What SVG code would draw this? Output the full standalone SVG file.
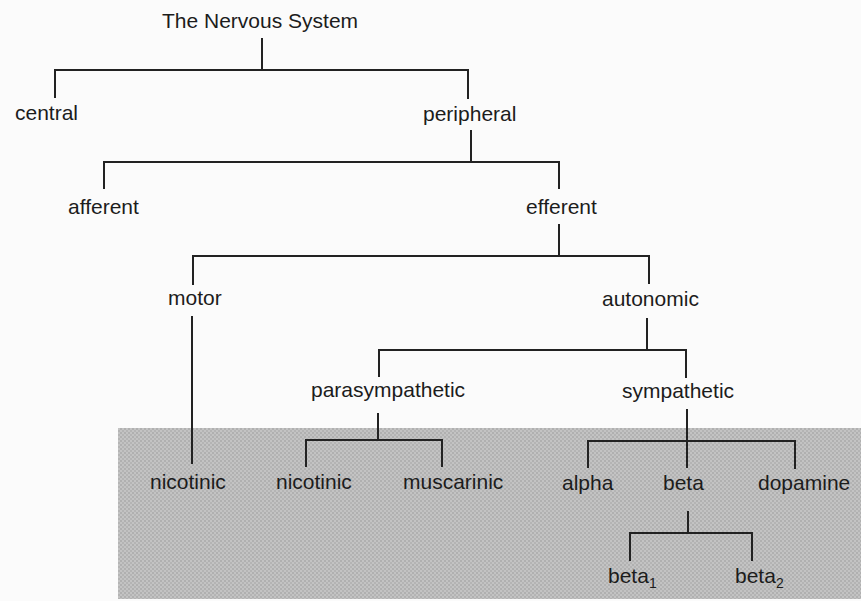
<svg xmlns="http://www.w3.org/2000/svg" width="861" height="601" viewBox="0 0 861 601">
  <style>
    .lbl { font-family: "Liberation Sans", Arial, Helvetica, sans-serif; font-size: 21px; fill: #1c1c1c; }
    .sub { font-size: 14px; }
    .link { fill: none; stroke: #222; stroke-width: 2; stroke-linecap: square; }
  </style>
  <defs>
    <!-- halftone screen used for the shaded receptor band -->
    <pattern id="screen" width="4" height="4" patternUnits="userSpaceOnUse">
      <rect width="4" height="4" fill="#c3c3c3"/>
      <rect x="0" y="0" width="2" height="2" fill="#b0b0b0"/>
      <rect x="2" y="2" width="2" height="2" fill="#b4b4b4"/>
    </pattern>
  </defs>

  <rect width="861" height="601" fill="#fbfbfb"/>
  <rect id="receptor-band" x="118" y="428" width="743" height="171" fill="url(#screen)"/>

  <g id="connectors">
    <path class="link" d="M262 39 V70 M55 70 H468 M55 70 V97 M468 70 V98"/>
    <path class="link" d="M471 131 V162 M104 162 H559 M104 162 V188 M559 162 V188"/>
    <path class="link" d="M559 225 V256 M193 256 H649 M193 256 V284 M649 256 V283"/>
    <path class="link" d="M192 317 V463"/>
    <path class="link" d="M647 319 V350 M379 350 H686 M379 350 V376 M686 350 V377"/>
    <path class="link" d="M378 414 V440 M306 440 H442 M306 440 V466 M442 440 V466"/>
    <path class="link" d="M687 410 V467 M588 441 H795 M588 441 V467 M795 441 V468"/>
    <path class="link" d="M688 512 V533 M630 533 H752 M630 533 V560 M752 533 V560"/>
  </g>

  <g id="nervous-system"><text class="lbl" x="162" y="28">The Nervous System</text></g>
  <g id="central"><text class="lbl" x="15" y="120">central</text></g>
  <g id="peripheral"><text class="lbl" x="423" y="121">peripheral</text></g>
  <g id="afferent"><text class="lbl" x="68" y="214">afferent</text></g>
  <g id="efferent"><text class="lbl" x="526" y="214">efferent</text></g>
  <g id="motor"><text class="lbl" x="168" y="305">motor</text></g>
  <g id="autonomic"><text class="lbl" x="602" y="306">autonomic</text></g>
  <g id="parasympathetic"><text class="lbl" x="311" y="397">parasympathetic</text></g>
  <g id="sympathetic"><text class="lbl" x="622" y="398">sympathetic</text></g>
  <g id="motor-nicotinic"><text class="lbl" x="150" y="489">nicotinic</text></g>
  <g id="para-nicotinic"><text class="lbl" x="276" y="489">nicotinic</text></g>
  <g id="muscarinic"><text class="lbl" x="403" y="489">muscarinic</text></g>
  <g id="alpha"><text class="lbl" x="562" y="490">alpha</text></g>
  <g id="beta"><text class="lbl" x="663" y="490">beta</text></g>
  <g id="dopamine"><text class="lbl" x="758" y="490">dopamine</text></g>
  <g id="beta1"><text class="lbl" x="608" y="583">beta<tspan class="sub" dy="5">1</tspan></text></g>
  <g id="beta2"><text class="lbl" x="735" y="583">beta<tspan class="sub" dy="5">2</tspan></text></g>
</svg>
